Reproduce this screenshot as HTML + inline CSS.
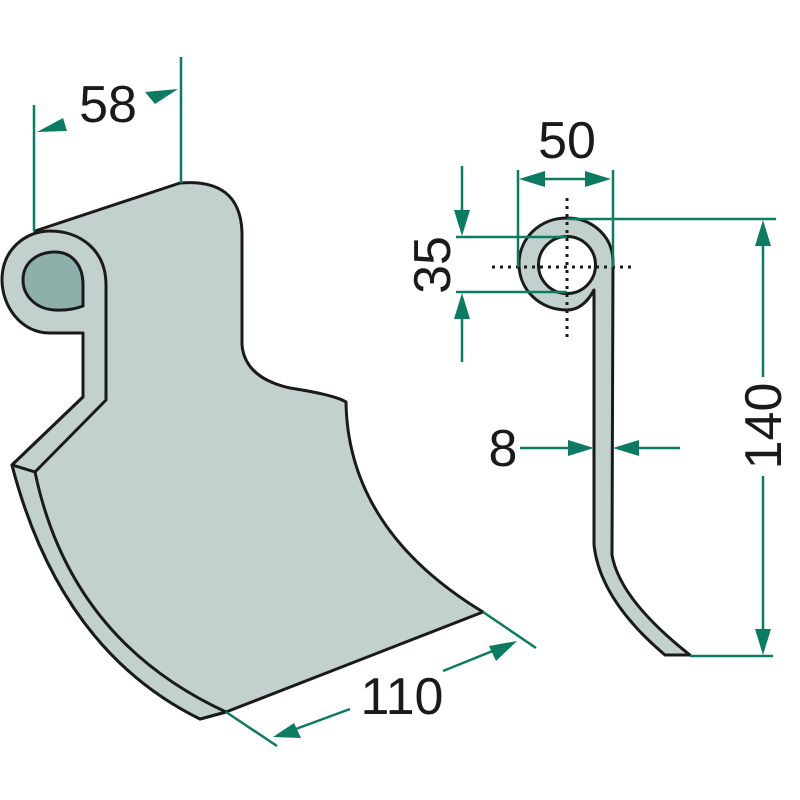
<!DOCTYPE html>
<html><head><meta charset="utf-8"><style>html,body{margin:0;padding:0;background:#fff}svg{display:block}</style></head>
<body>
<svg width="800" height="800" viewBox="0 0 800 800" xmlns="http://www.w3.org/2000/svg">
<g fill="#c2d1ce" stroke="#1a1a1a" stroke-width="3" stroke-linejoin="round">
  <path d="M35,231 L180,183 Q240,178 242,232 L242,345 Q245,378 290,388 Q335,395 346,402 Q348,530 483,612 L226,712 L200,719 Q60,650 12,465 L83,397 L83,310 L50,333 Z"/>
  <path d="M83,333 L50,333 C20,333 2,305 2,280 C2,250 25,231 50,231 C80,231 106,250 106,285 L106,400 L35,472 L12,465 L83,397 Z"/>
  <path d="M83,306 Q70,311 55,310 C35,309 23,295 23,280 C23,262 38,252 55,252 C72,252 83,265 83,285 Z" fill="#8fb0aa"/>
  <path d="M12,465 L35,472 Q70,640 226,712 L200,719 Q60,650 12,465 Z"/>
  <path d="M567,218 C592,218 613,236 613,262 L612,555 Q620,600 690,655 L665,655 Q600,600 594,545 L594,290 C587,303 578,310 567,310 C540,310 519,290 519,264 C519,238 540,218 567,218 Z"/>
  <circle cx="567" cy="265" r="28.5" fill="#fff"/>
</g>
<g stroke="#1a1a1a" stroke-width="3" stroke-dasharray="3,5">
  <line x1="567" y1="198" x2="567" y2="338"/>
  <line x1="492" y1="267" x2="632" y2="267"/>
</g>
<g stroke="#0d7a62" stroke-width="2.5" fill="none">
  <line x1="34" y1="105" x2="34" y2="231"/>
  <line x1="181" y1="57" x2="181" y2="183"/>
  <line x1="518" y1="170" x2="518" y2="267"/>
  <line x1="613" y1="170" x2="613" y2="267"/>
  <line x1="527" y1="179" x2="604" y2="179"/>
  <line x1="456" y1="237" x2="567" y2="237"/>
  <line x1="456" y1="292" x2="567" y2="292"/>
  <line x1="462" y1="166" x2="462" y2="225"/>
  <line x1="462" y1="305" x2="462" y2="362"/>
  <line x1="567" y1="219" x2="776" y2="219"/>
  <line x1="690" y1="656" x2="773" y2="656"/>
  <line x1="763" y1="230" x2="763" y2="377"/>
  <line x1="763" y1="476" x2="763" y2="645"/>
  <line x1="520" y1="448" x2="585" y2="448"/>
  <line x1="620" y1="448" x2="680" y2="448"/>
  <line x1="226" y1="712" x2="277" y2="746"/>
  <line x1="483" y1="612" x2="536" y2="648"/>
  <line x1="350" y1="709" x2="285" y2="733"/>
  <line x1="443" y1="671" x2="505" y2="646"/>
</g>
<g fill="#0d7a62">
  <polygon points="37,132 63,118 67,131"/>
  <polygon points="178,89 145,92 155,104"/>
  <polygon points="519,179 545,171 545,187"/>
  <polygon points="611,179 585,171 585,187"/>
  <polygon points="462,236 454,210 470,210"/>
  <polygon points="462,293 454,319 470,319"/>
  <polygon points="763,220 755,246 771,246"/>
  <polygon points="763,655 755,629 771,629"/>
  <polygon points="594,448 568,440 568,456"/>
  <polygon points="613,448 639,440 639,456"/>
  <polygon points="273,737 294,723 301,738"/>
  <polygon points="517,641 489,646 496,661"/>
</g>
<g font-family="Liberation Sans, sans-serif" font-size="52" fill="#1a1a1a" text-anchor="middle">
  <text x="108" y="122">58</text>
  <text x="567" y="158">50</text>
  <text x="503" y="466">8</text>
  <text x="402" y="714">110</text>
  <text transform="translate(450,265) rotate(-90)">35</text>
  <text transform="translate(781,426) rotate(-90)">140</text>
</g>
</svg>
</body></html>
